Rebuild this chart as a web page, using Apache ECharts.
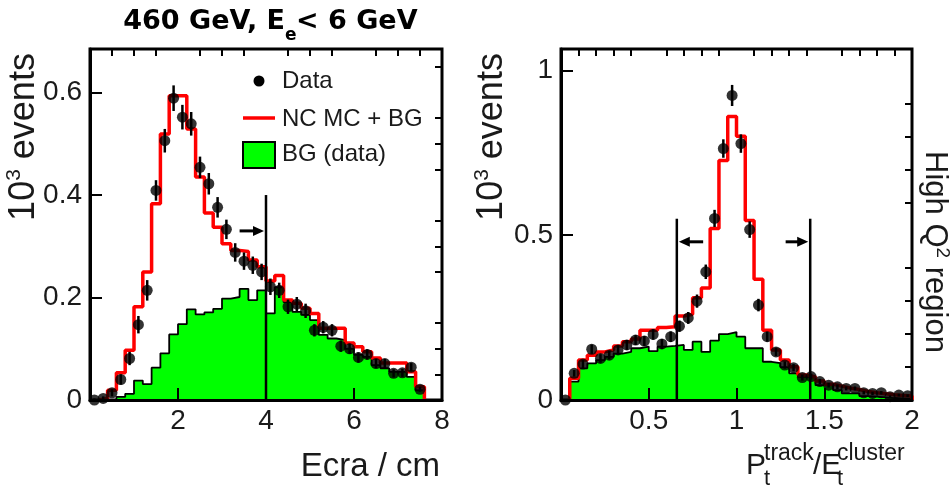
<!DOCTYPE html>
<html><head><meta charset="utf-8">
<script src="https://cdn.jsdelivr.net/npm/echarts@6/dist/echarts.min.js"></script>
<style>html,body{margin:0;padding:0;background:#fff}#c{width:950px;height:487px}</style>
</head><body><div id="c"></div>
<script>
// ---------- Left panel: Ecra (cm), bins of 0.2 starting at 0 ----------
const ecraBinStart = 0;
const ecraBinWidth = 0.2;
const ecraData = [0.0, 0.003, 0.014, 0.04, 0.081, 0.147, 0.214, 0.409, 0.506, 0.589, 0.552, 0.539, 0.454, 0.422, 0.376, 0.333, 0.288, 0.271, 0.263, 0.25, 0.221, 0.214, 0.182, 0.187, 0.174, 0.136, 0.142, 0.136, 0.105, 0.1, 0.083, 0.089, 0.071, 0.071, 0.052, 0.053, 0.064, 0.021];
const ecraDataErr = [0.003, 0.004, 0.007, 0.01, 0.013, 0.017, 0.02, 0.02, 0.023, 0.025, 0.024, 0.023, 0.021, 0.021, 0.02, 0.019, 0.018, 0.017, 0.017, 0.016, 0.016, 0.015, 0.014, 0.014, 0.014, 0.012, 0.012, 0.012, 0.011, 0.01, 0.01, 0.01, 0.009, 0.009, 0.008, 0.008, 0.008, 0.005];
const ecraMC = [0, 0.003, 0.019, 0.053, 0.097, 0.182, 0.25, 0.383, 0.519, 0.594, 0.594, 0.529, 0.435, 0.365, 0.337, 0.305, 0.292, 0.29, 0.273, 0.26, 0.232, 0.243, 0.195, 0.189, 0.179, 0.169, 0.14, 0.14, 0.14, 0.111, 0.104, 0.094, 0.082, 0.072, 0.072, 0.072, 0.055, 0.026];
const ecraBG = [0, 0, 0, 0.006, 0.012, 0.038, 0.031, 0.063, 0.091, 0.128, 0.148, 0.177, 0.167, 0.171, 0.178, 0.198, 0.201, 0.217, 0.195, 0.214, 0.169, 0.22, 0.191, 0.172, 0.166, 0.156, 0.127, 0.12, 0.117, 0.1, 0.088, 0.084, 0.068, 0.062, 0.055, 0.055, 0.045, 0.019];
const ecraXRange = [0, 8];
const ecraYRange = [0, 0.685];
const ecraXTicks = [0, 2, 4, 6, 8];
const ecraXLabels = [2, 4, 6, 8];
const ecraYTicks = [0, 0.2, 0.4, 0.6];
const ecraCut = [[4, 0.4]];
const ecraArrows = [[3.4, 4, 0.33]];

// ---------- Right panel: Pt(track)/Et(cluster), bins of 0.05 starting at 0 ----------
const ptBinStart = 0;
const ptBinWidth = 0.05;
const ptData = [0.0, 0.081, 0.109, 0.154, 0.126, 0.136, 0.152, 0.167, 0.182, 0.179, 0.199, 0.17, 0.192, 0.224, 0.249, 0.3, 0.389, 0.551, 0.763, 0.924, 0.778, 0.517, 0.288, 0.192, 0.146, 0.106, 0.098, 0.068, 0.071, 0.056, 0.045, 0.04, 0.035, 0.035, 0.022, 0.02, 0.022, 0.01, 0.015, 0.013];
const ptDataErr = [0.003, 0.01, 0.012, 0.014, 0.013, 0.013, 0.014, 0.015, 0.015, 0.015, 0.016, 0.015, 0.016, 0.017, 0.018, 0.02, 0.022, 0.026, 0.028, 0.032, 0.028, 0.025, 0.019, 0.015, 0.013, 0.011, 0.011, 0.009, 0.009, 0.008, 0.007, 0.007, 0.006, 0.006, 0.005, 0.005, 0.005, 0.004, 0.004, 0.004];
const ptMC = [0, 0.066, 0.121, 0.136, 0.146, 0.152, 0.164, 0.177, 0.185, 0.212, 0.212, 0.22, 0.222, 0.255, 0.26, 0.31, 0.34, 0.52, 0.727, 0.86, 0.8, 0.545, 0.366, 0.212, 0.152, 0.121, 0.101, 0.076, 0.07, 0.058, 0.048, 0.042, 0.036, 0.032, 0.026, 0.022, 0.019, 0.016, 0.014, 0.012];
const ptBG = [0, 0.056, 0.096, 0.111, 0.121, 0.131, 0.141, 0.146, 0.157, 0.162, 0.148, 0.162, 0.164, 0.167, 0.152, 0.177, 0.146, 0.18, 0.2, 0.206, 0.192, 0.157, 0.157, 0.116, 0.112, 0.1, 0.081, 0.07, 0.07, 0.045, 0.045, 0.03, 0.02, 0.02, 0.012, 0.01, 0.008, 0.006, 0.005, 0.004];
const ptXRange = [0, 2];
const ptYRange = [0, 1.065];
const ptXTicks = [0.5, 1, 1.5, 2];
const ptYTicks = [0, 0.5, 1];
const ptCut = [[0.66, 0.55], [1.42, 0.55]];
const ptArrows = [[0.81, 0.66, 0.48], [1.28, 1.42, 0.48]];

// ---------- helpers ----------
const FONT = '"Liberation Sans", Arial, sans-serif';
function centers(start, w, n) { const r = []; for (let i = 0; i < n; i++) r.push(+(start + (i + 0.5) * w).toFixed(4)); return r; }
function stepLine(start, w, vals) {
  let first = vals.findIndex(v => v > 0);
  let last = vals.length - 1; while (last >= 0 && !(vals[last] > 0)) last--;
  const pts = [[start + first * w, 0]];
  for (let i = first; i <= last; i++) { pts.push([start + i * w, vals[i]]); pts.push([start + (i + 1) * w, vals[i]]); }
  pts.push([start + (last + 1) * w, 0]);
  return pts;
}
function minorTicks(lo, hi, step, majorStep) {
  const r = []; const n = Math.round((hi - lo) / step);
  for (let i = 1; i <= n; i++) { const v = +(lo + i * step).toFixed(4); if (Math.abs(v / majorStep - Math.round(v / majorStep)) > 1e-6) r.push(v); }
  return r;
}
function mainAxis(grid, range, ticks, labels, isX) {
  return {
    type: 'value', gridIndex: grid, min: range[0], max: range[1], z: 10,
    axisLine: { show: true, onZero: false, lineStyle: { color: '#000', width: 3 } },
    axisTick: { show: true, inside: true, length: 12, customValues: ticks, lineStyle: { color: '#000', width: 2 } },
    axisLabel: { show: true, customValues: labels, fontSize: 28, fontFamily: FONT, color: '#1a1a1a', margin: isX ? 7 : 8 },
    splitLine: { show: false }
  };
}
function minorAxis(grid, range, ticks) {
  return {
    type: 'value', gridIndex: grid, min: range[0], max: range[1], z: 10,
    axisLine: { show: false, onZero: false },
    axisTick: { show: true, inside: true, length: 7, customValues: ticks, lineStyle: { color: '#000', width: 2 } },
    axisLabel: { show: false }, splitLine: { show: false }
  };
}
function errBars(xs, vals, errs) { return xs.map((x, i) => [x, Math.max(0, vals[i] - errs[i]), vals[i] + errs[i]]); }
const errRender = (params, api) => {
  const a = api.coord([api.value(0), api.value(1)]);
  const b = api.coord([api.value(0), api.value(2)]);
  return { type: 'line', shape: { x1: a[0], y1: a[1], x2: b[0], y2: b[1] }, style: { stroke: '#000', lineWidth: 2.5 } };
};
const cutRender = (params, api) => {
  const a = api.coord([api.value(0), 0]);
  const b = api.coord([api.value(0), api.value(1)]);
  return { type: 'line', shape: { x1: a[0], y1: a[1], x2: b[0], y2: b[1] }, style: { stroke: '#000', lineWidth: 2.5 } };
};
const arrowRender = (params, api) => {
  const a = api.coord([api.value(0), api.value(2)]);
  const b = api.coord([api.value(1), api.value(2)]);
  const dir = b[0] > a[0] ? 1 : -1;
  const tip = b[0] - dir * 2;
  return { type: 'group', children: [
    { type: 'line', shape: { x1: a[0], y1: a[1], x2: tip - dir * 8, y2: a[1] }, style: { stroke: '#000', lineWidth: 3 } },
    { type: 'polygon', shape: { points: [[tip, a[1]], [tip - dir * 11, a[1] - 5], [tip - dir * 11, a[1] + 5]] }, style: { fill: '#000' } }
  ] };
};

const ecraX = centers(ecraBinStart, ecraBinWidth, ecraData.length);
const ptX = centers(ptBinStart, ptBinWidth, ptData.length);

function panelSeries(xi, yi, start, w, xs, data, err, mc, bg, cuts, arrows) {
  return [
    { type: 'line', xAxisIndex: xi, yAxisIndex: yi, data: stepLine(start, w, bg), symbol: 'none', z: 2,
      lineStyle: { color: '#000', width: 1.8 }, areaStyle: { color: '#00ff00', opacity: 1 }, animation: false },
    { type: 'line', xAxisIndex: xi, yAxisIndex: yi, data: stepLine(start, w, mc), symbol: 'none', z: 3,
      lineStyle: { color: '#ff0000', width: 3.5 }, animation: false },
    { type: 'custom', xAxisIndex: xi, yAxisIndex: yi, data: cuts, renderItem: cutRender, z: 4, clip: false, animation: false },
    { type: 'custom', xAxisIndex: xi, yAxisIndex: yi, data: arrows, renderItem: arrowRender, z: 4, clip: false, animation: false },
    { type: 'custom', xAxisIndex: xi, yAxisIndex: yi, data: errBars(xs, data, err), renderItem: errRender, z: 11, clip: false, animation: false },
    { type: 'scatter', xAxisIndex: xi, yAxisIndex: yi, data: xs.map((x, i) => [x, data[i]]), symbol: 'circle', symbolSize: 11,
      itemStyle: { color: '#000' }, z: 12, clip: false, animation: false }
  ];
}

const txt = (o) => Object.assign({ type: 'text', z: 100 }, o);

const option = {
  animation: false,
  backgroundColor: '#fff',
  grid: [
    { left: 90, top: 49, width: 352, height: 351, show: true, borderColor: '#000', borderWidth: 3, backgroundColor: 'transparent' },
    { left: 561, top: 49, width: 351, height: 351, show: true, borderColor: '#000', borderWidth: 3, backgroundColor: 'transparent' }
  ],
  xAxis: [
    mainAxis(0, ecraXRange, ecraXTicks, ecraXLabels, true),
    minorAxis(0, ecraXRange, minorTicks(0, 8, 0.5, 2)),
    mainAxis(1, ptXRange, [0].concat(ptXTicks), ptXTicks, true),
    minorAxis(1, ptXRange, minorTicks(0, 2, 0.1, 0.5))
  ],
  yAxis: [
    mainAxis(0, ecraYRange, ecraYTicks, ecraYTicks, false),
    minorAxis(0, ecraYRange, minorTicks(0, 0.68, 0.05, 0.2)),
    mainAxis(1, ptYRange, ptYTicks, ptYTicks, false),
    minorAxis(1, ptYRange, minorTicks(0, 1.0, 0.1, 0.5))
  ],
  series: [].concat(
    panelSeries(0, 0, ecraBinStart, ecraBinWidth, ecraX, ecraData, ecraDataErr, ecraMC, ecraBG, ecraCut, ecraArrows),
    panelSeries(2, 2, ptBinStart, ptBinWidth, ptX, ptData, ptDataErr, ptMC, ptBG, ptCut, ptArrows)
  ),
  graphic: [
    // title
    txt({ x: 285, y: 22, style: { text: '460 GeV, E', font: 'bold 27px "DejaVu Sans"', fill: '#000', align: 'right', verticalAlign: 'middle' } }),
    txt({ x: 285, y: 36, style: { text: 'e', font: 'bold 17px "DejaVu Sans"', fill: '#000', align: 'left', verticalAlign: 'middle' } }),
    txt({ x: 296, y: 22, style: { text: '< 6 GeV', font: 'bold 27px "DejaVu Sans"', fill: '#000', align: 'left', verticalAlign: 'middle' } }),
    // y titles
    txt({ x: 24, y: 137, rotation: Math.PI / 2, style: { text: '{n|10}{s|3}{n| events}', align: 'center', verticalAlign: 'middle', fill: '#1a1a1a',
      rich: { n: { fontSize: 36, lineHeight: 40, fontFamily: FONT, fill: '#1a1a1a' }, s: { fontSize: 21, lineHeight: 21, verticalAlign: 'top', fontFamily: FONT, fill: '#1a1a1a' } } } }),
    txt({ x: 492, y: 137, rotation: Math.PI / 2, style: { text: '{n|10}{s|3}{n| events}', align: 'center', verticalAlign: 'middle', fill: '#1a1a1a',
      rich: { n: { fontSize: 36, lineHeight: 40, fontFamily: FONT, fill: '#1a1a1a' }, s: { fontSize: 21, lineHeight: 21, verticalAlign: 'top', fontFamily: FONT, fill: '#1a1a1a' } } } }),
    // right side label
    txt({ x: 935, y: 252, rotation: -Math.PI / 2, style: { text: '{n|High Q}{s|2}{n| region}', align: 'center', verticalAlign: 'middle', fill: '#1a1a1a',
      rich: { n: { fontSize: 31, lineHeight: 34, fontFamily: FONT, fill: '#1a1a1a' }, s: { fontSize: 19, lineHeight: 19, verticalAlign: 'top', fontFamily: FONT, fill: '#1a1a1a' } } } }),
    // x titles
    txt({ x: 440, y: 467, style: { text: 'Ecra / cm', font: '33px ' + FONT, fill: '#1a1a1a', align: 'right', verticalAlign: 'middle' } }),
    txt({ x: 746, y: 466, style: { text: 'P', font: '30px ' + FONT, fill: '#1a1a1a', align: 'left', verticalAlign: 'middle' } }),
    txt({ x: 764, y: 454, style: { text: 'track', font: '23px ' + FONT, fill: '#1a1a1a', align: 'left', verticalAlign: 'middle' } }),
    txt({ x: 764, y: 479, style: { text: 't', font: '22px ' + FONT, fill: '#1a1a1a', align: 'left', verticalAlign: 'middle' } }),
    txt({ x: 813, y: 466, style: { text: '/E', font: '30px ' + FONT, fill: '#1a1a1a', align: 'left', verticalAlign: 'middle' } }),
    txt({ x: 837, y: 454, style: { text: 'cluster', font: '23px ' + FONT, fill: '#1a1a1a', align: 'left', verticalAlign: 'middle' } }),
    txt({ x: 837, y: 479, style: { text: 't', font: '22px ' + FONT, fill: '#1a1a1a', align: 'left', verticalAlign: 'middle' } }),
    // legend
    { type: 'circle', z: 100, shape: { cx: 259, cy: 81, r: 5.5 }, style: { fill: '#000' } },
    txt({ x: 282, y: 81, style: { text: 'Data', font: '24px ' + FONT, fill: '#1a1a1a', align: 'left', verticalAlign: 'middle' } }),
    { type: 'line', z: 100, shape: { x1: 243, y1: 118, x2: 275, y2: 118 }, style: { stroke: '#ff0000', lineWidth: 3.5 } },
    txt({ x: 282, y: 119, style: { text: 'NC MC + BG', font: '24px ' + FONT, fill: '#1a1a1a', align: 'left', verticalAlign: 'middle' } }),
    { type: 'rect', z: 100, shape: { x: 243, y: 142, width: 32, height: 26 }, style: { fill: '#00ff00', stroke: '#000', lineWidth: 2 } },
    txt({ x: 282, y: 154, style: { text: 'BG (data)', font: '24px ' + FONT, fill: '#1a1a1a', align: 'left', verticalAlign: 'middle' } })
  ]
};
const chart = echarts.init(document.getElementById('c'), null, { renderer: 'canvas' });
chart.setOption(option);
</script></body></html>
